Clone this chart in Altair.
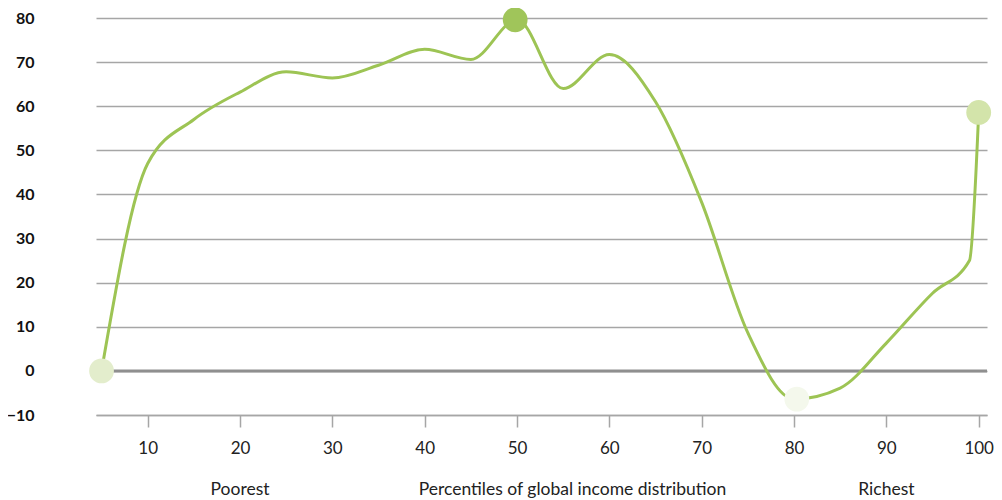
import altair as alt
import pandas as pd

percentile = [5, 10, 15, 20, 25, 30, 35, 40, 45, 50, 55, 60, 65, 70, 75, 80, 85, 90, 95, 99, 100]
growth = [0, 47, 57, 63.2, 67.8, 66.4, 69.3, 72.9, 70.6, 79.6, 64, 71.7, 61, 38.2, 8.6, -6.4, -3.9, 6.3, 17.6, 25, 58.6]

marker_pct = [5, 49.8, 80.3, 100]
marker_val = [0, 79.6, -6.4, 58.6]
marker_col = ["#e3edcc", "#a0c55a", "#f4f8ec", "#d3e4aa"]

label_pos = [20, 56, 90]
label_txt = ["Poorest", "Percentiles of global income distribution", "Richest"]

y_ticks = [-10, 0, 10, 20, 30, 40, 50, 60, 70, 80]
x_ticks = [10, 20, 30, 40, 50, 60, 70, 80, 90, 100]

df = pd.DataFrame({"p": percentile, "g": growth})
dm = pd.DataFrame({"p": marker_pct, "g": marker_val, "c": marker_col})
dl = pd.DataFrame({"p": label_pos, "t": label_txt})
dz = pd.DataFrame({"g": [0]})

FONT = "Lato"
xs = alt.Scale(domain=[4.4, 100.9], nice=False, zero=False)
ys = alt.Scale(domain=[-10, 80], nice=False)

base_x = alt.X("p:Q", scale=xs, axis=alt.Axis(
    values=x_ticks, grid=False, domain=True, domainColor="#a6a6a6", domainWidth=1.5,
    ticks=True, tickSize=12, tickColor="#a6a6a6", tickWidth=1.5,
    labelFont=FONT, labelFontSize=17, labelColor="#222222", labelPadding=13,
    title=None))
base_y = alt.Y("g:Q", scale=ys, axis=alt.Axis(
    values=y_ticks, grid=True, gridColor="#a6a6a6", gridWidth=1.5,
    domain=False, ticks=False, labelFont=FONT, labelFontSize=16,
    labelFontWeight="bold", labelColor="#111111", labelPadding=62, title=None))

line = alt.Chart(df).mark_line(interpolate="monotone", color="#9dc454", strokeWidth=3).encode(
    x=base_x, y=base_y)

zero = alt.Chart(dz).mark_rule(color="#8f8f8f", strokeWidth=3).encode(
    y=alt.Y("g:Q", scale=ys))

points = alt.Chart(dm).mark_circle(size=615, opacity=1).encode(
    x=alt.X("p:Q", scale=xs),
    y=alt.Y("g:Q", scale=ys),
    color=alt.Color("c:N", scale=None))

labels = alt.Chart(dl).mark_text(font=FONT, fontSize=17.5, color="#222222",
                                 baseline="alphabetic", align="center").encode(
    x=alt.X("p:Q", scale=xs),
    y=alt.value(477),
    text="t:N")

chart = alt.layer(zero, line, points, labels).properties(
    width=891, height=397,
    autosize=alt.AutoSizeParams(type="none"),
    padding={"left": 88, "top": 10, "right": 7, "bottom": 85},
).configure_view(stroke=None)

chart.save("out.html", embed_options={"renderer": "svg", "actions": False})
